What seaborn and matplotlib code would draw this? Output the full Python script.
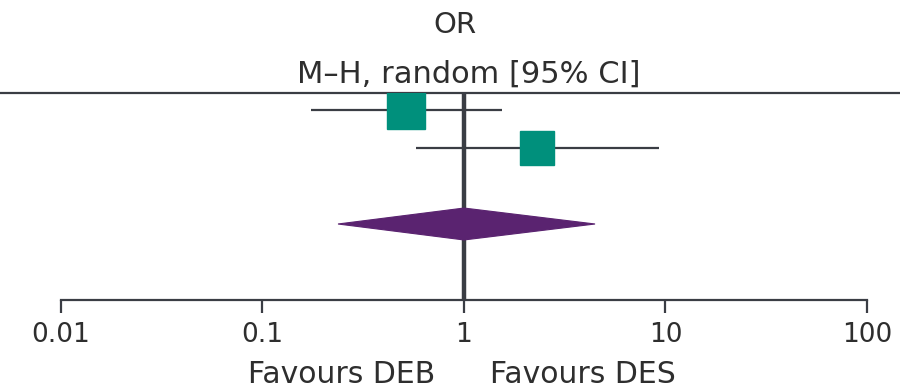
import numpy as np
import pandas as pd
import matplotlib
matplotlib.use("Agg")
import matplotlib.pyplot as plt
from matplotlib.patches import Polygon
import seaborn as sns

# Study-level odds ratios with 95% CI, plus the random-effects pooled estimate
studies = ["Study 1", "Study 2"]
odds_ratio = [0.515, 2.29]
ci_lower = [0.174, 0.578]
ci_upper = [1.545, 9.29]

pooled_or = 1.0
pooled_lower = 0.237
pooled_upper = 4.47

tick_values = [0.01, 0.1, 1, 10, 100]
tick_labels = ["0.01", "0.1", "1", "10", "100"]
header_top = "OR"
header_sub = "M\u2013H, random [95% CI]"
favours_left = "Favours DEB"
favours_right = "Favours DES"

sns.set_theme(style="white")
plt.rcParams["font.family"] = ["DejaVu Sans"]

TEAL = "#00907c"
PURPLE = "#5a2370"
INK = "#3a3d44"
TEXT = "#2e2e2e"

W, H = 900, 389
fig = plt.figure(figsize=(W / 100, H / 100), dpi=100)

# axes spans full width; its top edge is the header rule, its bottom the OR axis
ax_top_px, ax_bot_px = 93, 300
ax = fig.add_axes([0, 1 - ax_bot_px / H, 1, (ax_bot_px - ax_top_px) / H])

# x in log space: 0.01 at x=61px, 100 at x=867px
px_per_dec = (867 - 61) / 4
ax.set_xscale("log")
ax.set_xlim(10 ** (-2 - 61 / px_per_dec), 10 ** (2 + (W - 867) / px_per_dec))

rows = [0, 1]
pooled_row = 3
row_px = 38
first_row_px = 110
ax.set_ylim((ax_bot_px - first_row_px) / row_px, (ax_top_px - first_row_px) / row_px)

df = pd.DataFrame({"study": studies, "or": odds_ratio, "lo": ci_lower,
                   "hi": ci_upper, "row": rows})

# confidence intervals
ax.hlines(df["row"], df["lo"], df["hi"], color=INK, lw=1.6, zorder=2)

# line of no effect
ax.axvline(1, color=INK, lw=3.2, zorder=3)

# study point estimates
marker_sizes = [27, 25]
for r, o, ms in zip(df["row"], df["or"], marker_sizes):
    ax.plot([o], [r], marker="s", ms=ms, color=TEAL, mec=TEAL, ls="none", zorder=4)

# pooled estimate diamond
half_h = 0.42
diamond = Polygon([(pooled_lower, pooled_row), (pooled_or, pooled_row - half_h),
                   (pooled_upper, pooled_row), (pooled_or, pooled_row + half_h)],
                  closed=True, facecolor=PURPLE, edgecolor=PURPLE, lw=0.8, zorder=5)
ax.add_patch(diamond)

# spines
for s in ["left", "right"]:
    ax.spines[s].set_visible(False)
ax.spines["top"].set_color(INK)
ax.spines["top"].set_linewidth(1.6)
ax.spines["bottom"].set_color(INK)
ax.spines["bottom"].set_linewidth(1.6)
ax.spines["bottom"].set_bounds(tick_values[0], tick_values[-1])

ax.set_yticks([])
ax.set_xticks(tick_values)
ax.set_xticklabels(tick_labels)
ax.xaxis.set_minor_locator(matplotlib.ticker.NullLocator())
ax.tick_params(axis="x", which="major", direction="out", length=9, width=1.6,
               color=INK, labelsize=19, labelcolor=TEXT, pad=7, bottom=True)

# header text above the rule
x_one = 464 / W
fig.text(x_one - 0.01, 1 - 33 / H, header_top, ha="center", va="baseline",
         fontsize=21, color=TEXT)
fig.text(469 / W, 1 - 83 / H, header_sub, ha="center", va="baseline",
         fontsize=22, color=TEXT)

# favours labels under the axis, resting on the bottom edge
fig.text(435 / W, 0.0, favours_left, ha="right", va="bottom",
         fontsize=21.5, color=TEXT)
fig.text(490 / W, 0.0, favours_right, ha="left", va="bottom",
         fontsize=21.5, color=TEXT)

fig.savefig("out.png", dpi=100)
